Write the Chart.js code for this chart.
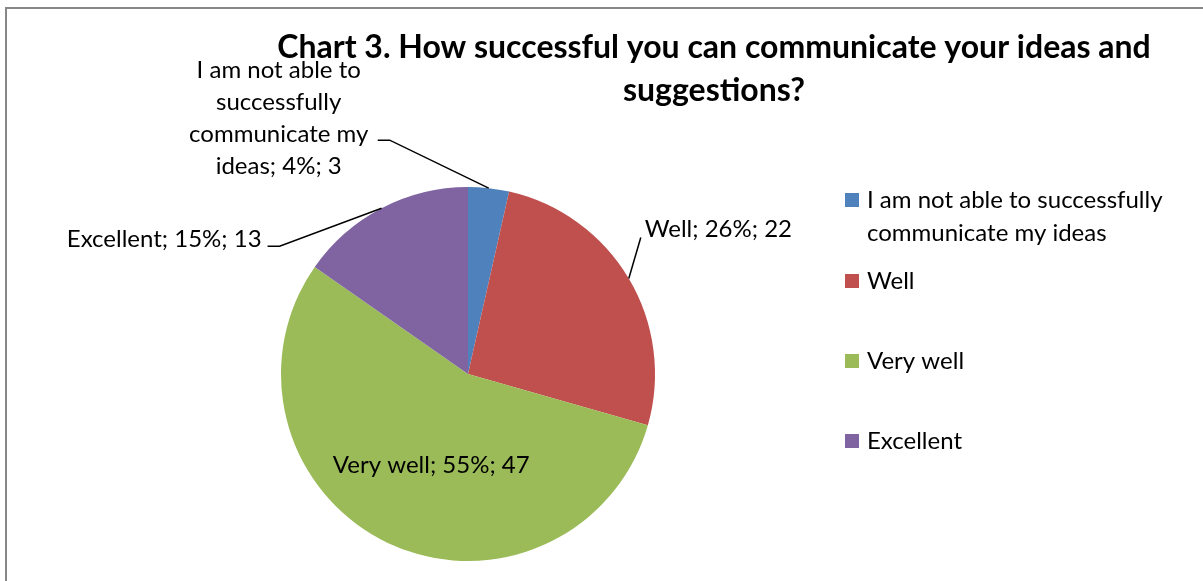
<!DOCTYPE html>
<html>
<head>
<meta charset="utf-8">
<script src="https://cdn.jsdelivr.net/npm/chart.js@4.4.1/dist/chart.umd.min.js"></script>
<style>
  body { margin: 0; background: #fff; }
  #wrap { position: relative; width: 1203px; height: 581px; }
</style>
</head>
<body>
<div id="wrap"><canvas id="chart"></canvas></div>
<script>
const categories = [
  'I am not able to successfully communicate my ideas',
  'Well',
  'Very well',
  'Excellent'
];
const counts = [3, 22, 47, 13];
const sliceColors = ['#4F81BD', '#C0504D', '#9BBB59', '#8064A2'];

// legend text, broken the way it wraps beside the pie
const legendLines = [
  ['I am not able to successfully', 'communicate my ideas'],
  ['Well'],
  ['Very well'],
  ['Excellent']
];
// data label text before the "; pct; count" suffix, split into lines
const labelHeads = [
  ['I am not able to', 'successfully', 'communicate my', 'ideas'],
  ['Well'],
  ['Very well'],
  ['Excellent']
];

const FONT = 'Lato, "Open Sans", sans-serif';
const total = counts.reduce((a, b) => a + b, 0);

function labelLines(i) {
  const pct = Math.round(counts[i] / total * 100);
  const lines = labelHeads[i].slice();
  lines[lines.length - 1] += '; ' + pct + '%; ' + counts[i];
  return lines;
}

// where each data label sits relative to its slice
const labelPlacement = [
  { elbow: [-99, -48], tick: -12, align: 'center', tx: -99, ty: -70 },
  { elbow: [12, -41], tick: 0, align: 'left', tx: 4, ty: -8 },
  { inside: 0.52, dx: 5, dy: 3 },
  { elbow: [-102, 38], tick: -12, align: 'right', tx: -6, ty: -7 }
];

const frameAndText = {
  id: 'frameAndText',
  beforeDraw(chart) {
    const ctx = chart.ctx;
    ctx.save();
    ctx.strokeStyle = '#878787';
    ctx.lineWidth = 2;
    ctx.strokeRect(6, 8, 1400, 800);
    ctx.restore();
  },
  afterDraw(chart) {
    const ctx = chart.ctx;
    ctx.save();

    // title
    ctx.fillStyle = '#000';
    ctx.font = 'bold 32px ' + FONT;
    ctx.textAlign = 'center';
    ctx.textBaseline = 'alphabetic';
    ctx.fillText('Chart 3. How successful you can communicate your ideas and', 714, 58);
    ctx.fillText('suggestions?', 714, 101);

    // data labels
    const meta = chart.getDatasetMeta(0);
    ctx.font = '24px ' + FONT;
    ctx.textBaseline = 'middle';
    ctx.strokeStyle = '#000';
    ctx.lineWidth = 1.5;
    meta.data.forEach((arc, i) => {
      const p = labelPlacement[i];
      const mid = (arc.startAngle + arc.endAngle) / 2;
      const lines = labelLines(i);
      if (p.inside) {
        const r = arc.outerRadius * p.inside;
        ctx.textAlign = 'center';
        ctx.fillText(lines[0], arc.x + Math.cos(mid) * r + p.dx, arc.y + Math.sin(mid) * r + p.dy);
        return;
      }
      const ax = arc.x + Math.cos(mid) * arc.outerRadius;
      const ay = arc.y + Math.sin(mid) * arc.outerRadius;
      const ex = ax + p.elbow[0], ey = ay + p.elbow[1];
      const tx = ex + p.tick;
      ctx.beginPath();
      ctx.moveTo(ax, ay);
      ctx.lineTo(ex, ey);
      ctx.lineTo(tx, ey);
      ctx.stroke();
      ctx.textAlign = p.align;
      lines.forEach((line, k) => {
        ctx.fillText(line, tx + p.tx, ey + p.ty + k * 32);
      });
    });

    // legend
    const rows = [200, 281, 361, 441];
    ctx.textAlign = 'left';
    legendLines.forEach((lines, i) => {
      ctx.fillStyle = sliceColors[i];
      ctx.fillRect(845, rows[i] - 7, 14, 14);
      ctx.fillStyle = '#000';
      lines.forEach((line, k) => ctx.fillText(line, 867, rows[i] + k * 33));
    });
    ctx.restore();
  }
};

new Chart(document.getElementById('chart'), {
  type: 'pie',
  data: {
    labels: categories,
    datasets: [{
      data: counts,
      backgroundColor: sliceColors,
      borderWidth: 0
    }]
  },
  options: {
    responsive: true,
    maintainAspectRatio: false,
    animation: false,
    layout: { padding: { left: 281, right: 548, top: 187, bottom: 20 } },
    plugins: {
      legend: { display: false },
      tooltip: { enabled: false },
      title: { display: false }
    }
  },
  plugins: [frameAndText]
});
</script>
</body>
</html>
